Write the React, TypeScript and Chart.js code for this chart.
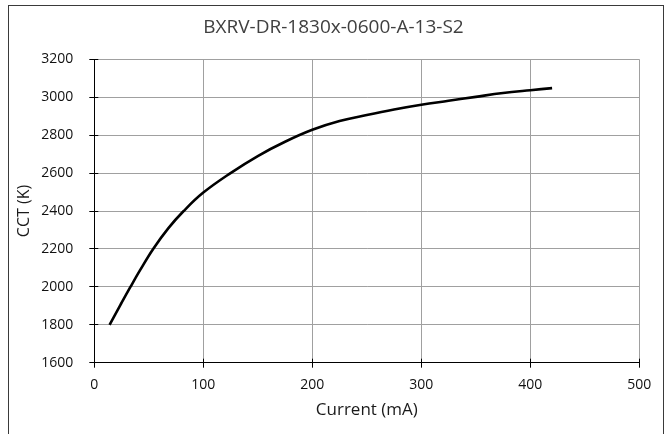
import React, { useEffect, useRef } from "react";
import { Chart, registerables } from "chart.js";

Chart.register(...registerables);

const chartTitle = "BXRV-DR-1830x-0600-A-13-S2";
const xAxisTitle = "Current (mA)";
const yAxisTitle = "CCT (K)";

const currentMA = [14, 24, 33, 42, 54, 68, 82, 100, 125, 150, 175, 200, 225, 250, 275, 300, 325, 350, 375, 400, 420];
const cctK = [1800, 1905, 1998, 2088, 2200, 2310, 2400, 2497, 2600, 2690, 2765, 2828, 2874, 2906, 2935, 2960, 2981, 3002, 3022, 3037, 3048];

const xTickValues = [0, 100, 200, 300, 400, 500];
const yTickValues = [1600, 1800, 2000, 2200, 2400, 2600, 2800, 3000, 3200];

const FONT = "'Open Sans', 'DejaVu Sans', sans-serif";
const W = 667;
const H = 434;

const framePlugin = {
  id: "frame",
  beforeDraw(chart: any) {
    const ctx = chart.ctx;
    ctx.save();
    ctx.fillStyle = "#ffffff";
    ctx.fillRect(0, 0, chart.width, chart.height);
    ctx.restore();
  },
  afterDraw(chart: any) {
    const ctx = chart.ctx;
    const { left, bottom } = chart.chartArea;
    const xs = chart.scales.x;
    const ys = chart.scales.y;
    ctx.save();
    ctx.lineWidth = 1;
    ctx.strokeStyle = "#3a3a3a";
    ctx.strokeRect(8.5, 5.5, 655, H + 20);
    ctx.strokeStyle = "#000000";
    ctx.beginPath();
    xs.ticks.forEach((t: any) => {
      const px = Math.round(xs.getPixelForValue(t.value) - 0.5) + 0.5;
      ctx.moveTo(px, bottom);
      ctx.lineTo(px, bottom - 4);
    });
    ys.ticks.forEach((t: any) => {
      const py = Math.round(ys.getPixelForValue(t.value) - 0.5) + 0.5;
      ctx.moveTo(left, py);
      ctx.lineTo(left + 4, py);
    });
    ctx.stroke();
    ctx.restore();
  },
};

export default function App() {
  const canvasRef = useRef<HTMLCanvasElement | null>(null);

  useEffect(() => {
    const canvas = canvasRef.current;
    if (!canvas) return;
    const points = currentMA.map((x, i) => ({ x, y: cctK[i] }));
    const chart = new Chart(canvas, {
      type: "line",
      data: {
        datasets: [
          {
            data: points,
            borderColor: "#000000",
            borderWidth: 2.6,
            pointRadius: 0,
            fill: false,
            tension: 0.4,
            xAxisID: "x",
            yAxisID: "y",
          },
        ],
      },
      options: {
        responsive: false,
        animation: false,
        devicePixelRatio: 1,
        layout: { padding: 0 },
        plugins: {
          legend: { display: false },
          tooltip: { enabled: false },
          title: {
            display: true,
            text: chartTitle,
            color: "#404040",
            font: { family: FONT, size: 19, weight: "normal", lineHeight: 1.2 },
            padding: { top: 16, bottom: 20.5 },
          },
        },
        scales: {
          x: {
            type: "linear",
            min: 0,
            max: 500,
            afterBuildTicks: (scale: any) => {
              scale.ticks = xTickValues.map((v) => ({ value: v }));
            },
            afterFit: (scale: any) => {
              scale.height = H - 362.7;
            },
            ticks: {
              color: "#111111",
              font: { family: FONT, size: 14 },
              padding: 9,
              callback: (v: any) => String(v),
            },
            grid: {
              color: "#a0a0a0",
              lineWidth: 1,
              tickLength: 5,
              tickColor: "#000000",
            },
            border: { color: "#000000", width: 1 },
            title: {
              display: true,
              text: xAxisTitle,
              color: "#1a1a1a",
              font: { family: FONT, size: 17, lineHeight: 1.2 },
              padding: { top: 0, bottom: 13.8 },
            },
          },
          y: {
            type: "linear",
            position: "left",
            min: 1600,
            max: 3200,
            afterBuildTicks: (scale: any) => {
              scale.ticks = yTickValues.map((v) => ({ value: v }));
            },
            afterFit: (scale: any) => {
              scale.width = 94.3;
            },
            ticks: {
              color: "#111111",
              font: { family: FONT, size: 14 },
              padding: 16,
              callback: (v: any) => String(v),
            },
            grid: {
              color: "#a0a0a0",
              lineWidth: 1,
              tickLength: 5,
              tickColor: "#000000",
            },
            border: { color: "#000000", width: 1 },
            title: {
              display: true,
              text: yAxisTitle,
              color: "#1a1a1a",
              font: { family: FONT, size: 16, lineHeight: 1.2 },
              padding: { top: 14.4, bottom: 0 },
            },
          },
          spacer: {
            type: "linear",
            position: "right",
            display: true,
            min: 1600,
            max: 3200,
            afterFit: (scale: any) => {
              scale.width = 27.7;
            },
            ticks: { display: false },
            grid: { display: false, drawOnChartArea: false },
            border: { display: false },
            title: { display: false },
          },
        },
      },
      plugins: [framePlugin],
    } as any);
    return () => chart.destroy();
  }, []);

  return (
    <div style={{ position: "fixed", left: 0, top: 0, width: W, height: H, background: "#fff" }}>
      <canvas ref={canvasRef} width={W} height={H} style={{ display: "block", width: W, height: H }} />
    </div>
  );
}
